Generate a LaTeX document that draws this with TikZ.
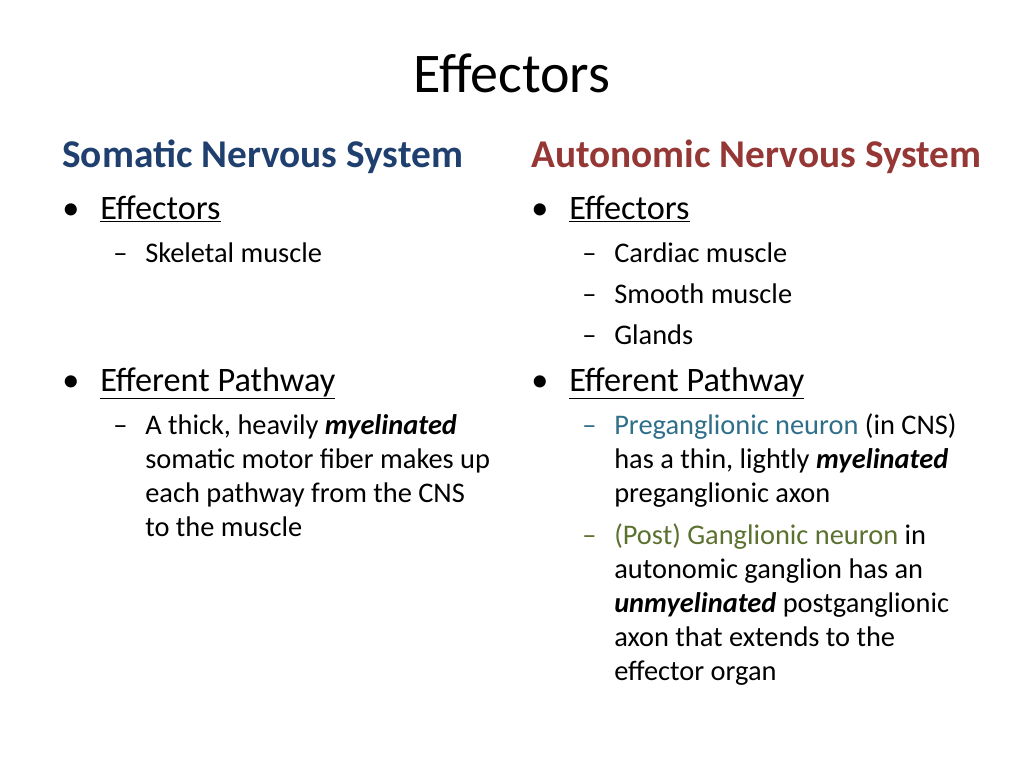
\documentclass[tikz,border=0pt]{standalone}
\usepackage{fontspec}
\setmainfont{Carlito}
\usepackage{xcolor}
\definecolor{somblue}{HTML}{1F3F6E}
\definecolor{autred}{HTML}{953735}
\definecolor{preteal}{HTML}{2F6F8A}
\definecolor{postolive}{HTML}{5B7130}
\tikzset{
  title/.style={anchor=base, inner sep=0pt, font=\fontsize{42}{50}\selectfont},
  head/.style={anchor=base west, inner sep=0pt, font=\fontsize{29.5}{35}\selectfont\bfseries},
  lvlone/.style={anchor=base west, inner sep=0pt, font=\fontsize{25.7}{31}\selectfont},
  lvltwo/.style={anchor=base west, inner sep=0pt, font=\fontsize{21.3}{26}\selectfont}
}
\newcommand{\myel}[1]{\textbf{\textit{#1}}}
\begin{document}
\begin{tikzpicture}[x=0.75pt, y=-0.75pt]
    \useasboundingbox (0,0) rectangle (1024,768);

    \node[title] (ttl) at (512,92) {Effectors};

    % somatic column
    \node[head, text=somblue] (som) at (62,167) {Somatic Nervous System};
    \node[lvlone] (sb1) at (62,219) {•};
    \node[lvlone] (se) at (100,219) {\underline{Effectors}};
    \node[lvltwo] (sd1) at (113,262) {–};
    \node[lvltwo] (sm) at (145,262) {Skeletal muscle};
    \node[lvlone] (sb2) at (62,391) {•};
    \node[lvlone] (sp) at (100,391) {\underline{Efferent Pathway}};
    \node[lvltwo] (sd2) at (113,434) {–};
    \node[lvltwo] (sl1) at (145,434) {A thick, heavily \myel{myelinated}};
    \node[lvltwo] (sl2) at (145,468) {somatic motor fiber makes up};
    \node[lvltwo] (sl3) at (145,502) {each pathway from the CNS};
    \node[lvltwo] (sl4) at (145,536) {to the muscle};

    % autonomic column
    \node[head, text=autred] (aut) at (531,167) {Autonomic Nervous System};
    \node[lvlone] (ab1) at (531,219) {•};
    \node[lvlone] (ae) at (569,219) {\underline{Effectors}};
    \node[lvltwo] (ad1) at (582,262) {–};
    \node[lvltwo] (am1) at (614,262) {Cardiac muscle};
    \node[lvltwo] (ad2) at (582,303) {–};
    \node[lvltwo] (am2) at (614,303) {Smooth muscle};
    \node[lvltwo] (ad3) at (582,344) {–};
    \node[lvltwo] (am3) at (614,344) {Glands};
    \node[lvlone] (ab2) at (531,391) {•};
    \node[lvlone] (ap) at (569,391) {\underline{Efferent Pathway}};
    \node[lvltwo, text=preteal] (ad4) at (582,434) {–};
    \node[lvltwo] (al1) at (614,434) {\textcolor{preteal}{Preganglionic neuron} (in CNS)};
    \node[lvltwo] (al2) at (614,468) {has a thin, lightly \myel{myelinated}};
    \node[lvltwo] (al3) at (614,502) {preganglionic axon};
    \node[lvltwo, text=postolive] (ad5) at (582,544) {–};
    \node[lvltwo] (al4) at (614,544) {\textcolor{postolive}{(Post) Ganglionic neuron} in};
    \node[lvltwo] (al5) at (614,578) {autonomic ganglion has an};
    \node[lvltwo] (al6) at (614,612) {\myel{unmyelinated} postganglionic};
    \node[lvltwo] (al7) at (614,646) {axon that extends to the};
    \node[lvltwo] (al8) at (614,680) {effector organ};
\end{tikzpicture}
\end{document}
